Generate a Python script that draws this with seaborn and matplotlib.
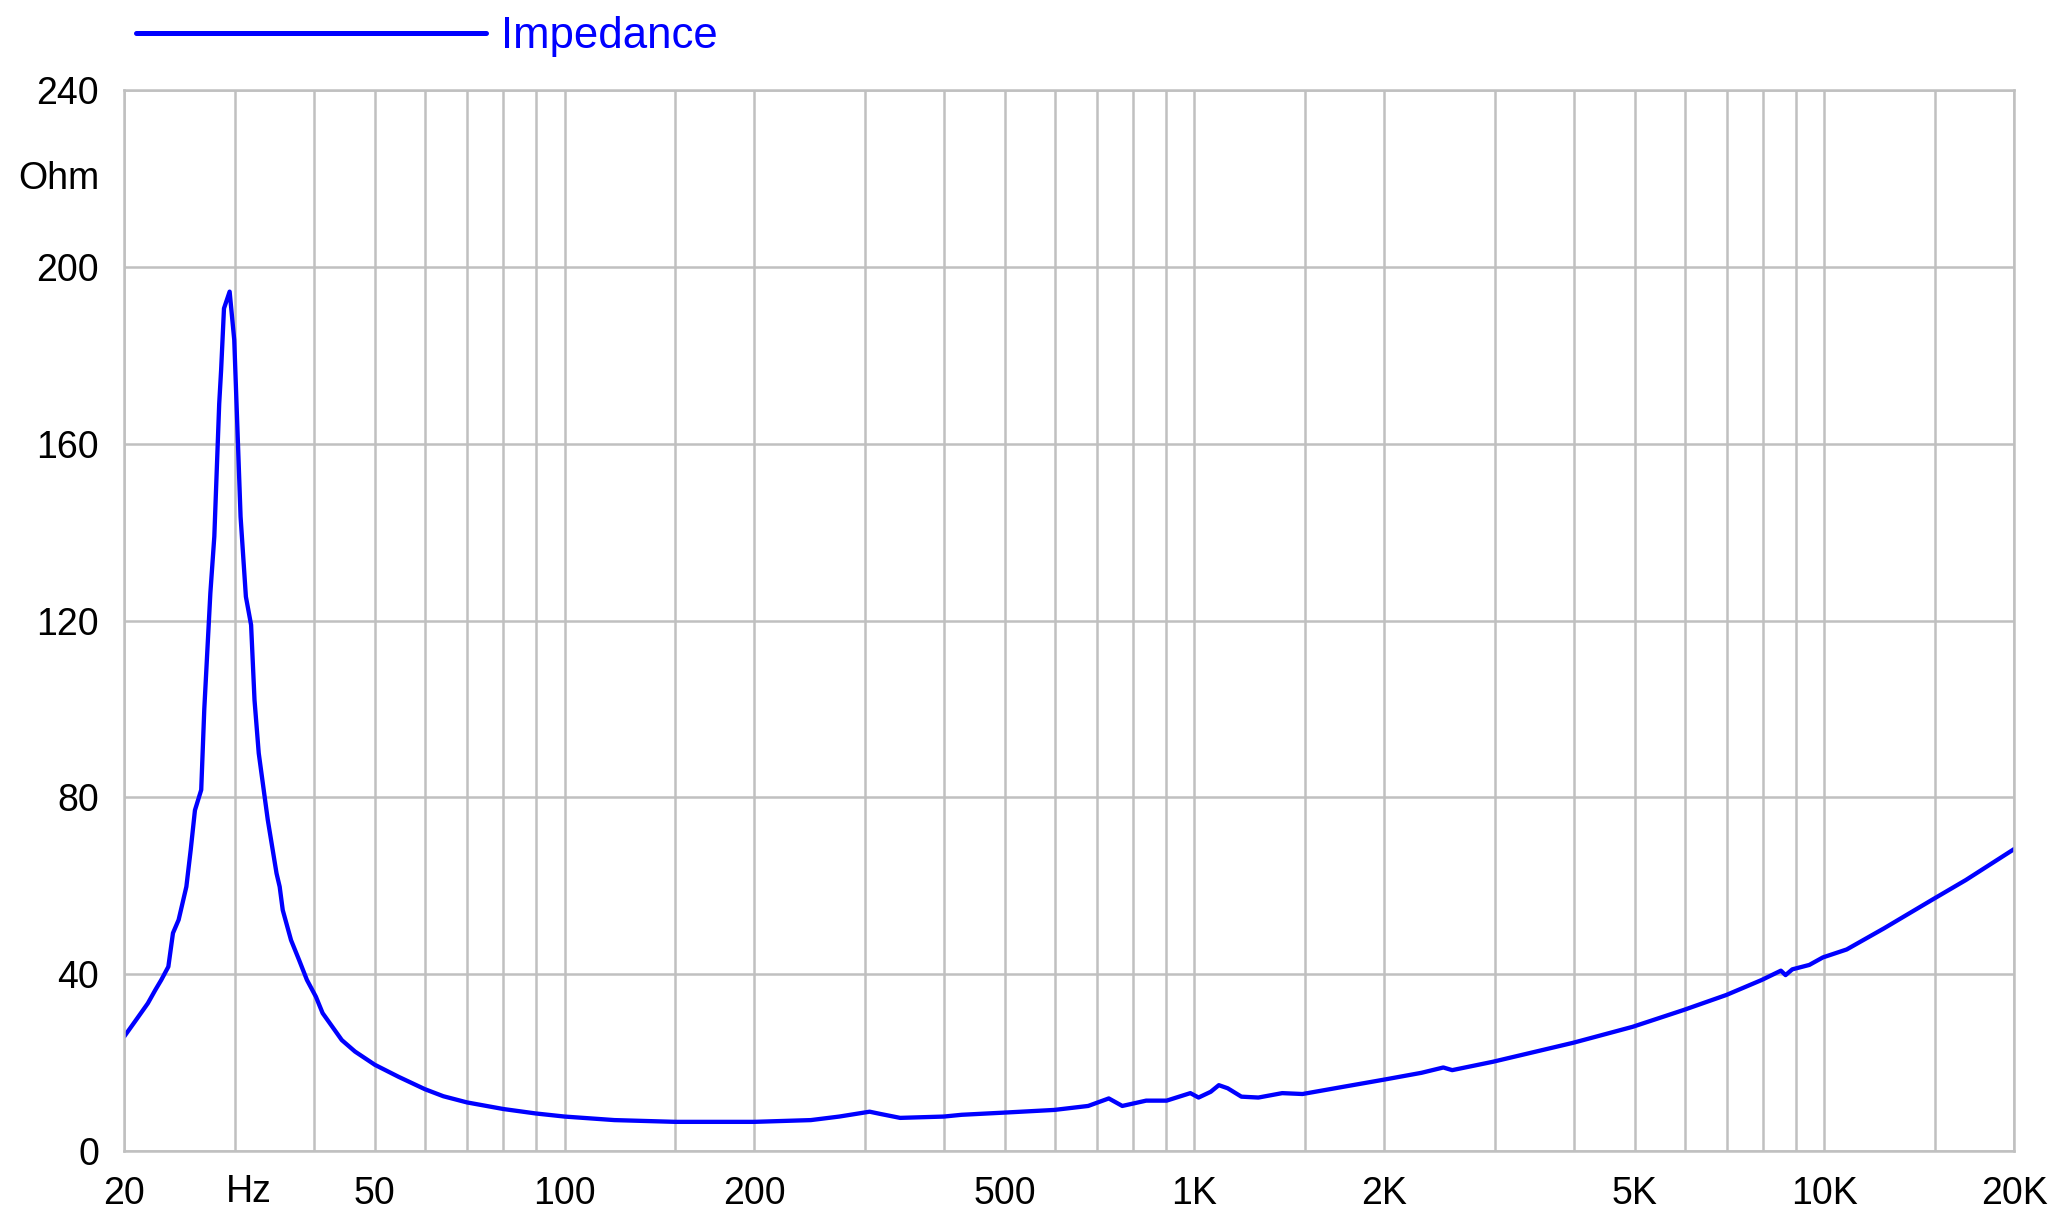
import matplotlib
matplotlib.use("Agg")
import matplotlib.pyplot as plt
import matplotlib.ticker as mticker
import numpy as np
import pandas as pd
import seaborn as sns

# impedance curve (Hz, Ohm)
freq = [20, 20.8, 21.8, 22.4, 22.9, 23.5, 23.9, 24.4, 25.1, 25.5, 25.9, 26.5,
        26.8, 27.4, 27.8, 28.3, 28.5, 28.8, 29.4, 29.9, 30.6, 31.2, 31.8, 32.2,
        32.7, 33.8, 34.9, 35.3, 35.7, 36.8, 37.9, 39.0, 40.3, 41.3, 42.8, 44.3,
        46.5, 50, 54.5, 60, 64.2, 70, 80, 90, 100, 120, 150, 200, 246, 273, 305,
        317, 341, 400, 427, 500, 599, 678, 731, 768, 838, 903, 985, 1015, 1061,
        1093, 1129, 1187, 1263, 1378, 1484, 1702, 1990, 2293, 2483, 2565, 2978,
        3994, 4960, 5975, 6986, 7952, 8528, 8675, 8892, 9462, 9943, 10848,
        12441, 14808, 16765, 20000]
impedance = [25.9, 29.3, 33.4, 36.4, 38.7, 41.7, 49.3, 52.3, 59.8, 68.1, 77.1,
             81.7, 100, 126.2, 139, 169, 176.7, 190.6, 194.4, 183.5, 143.5,
             125.4, 119, 102, 90, 74.9, 62.8, 59.8, 54.5, 47.7, 43.2, 38.7,
             34.9, 31.2, 28.1, 25.1, 22.5, 19.5, 16.8, 14.0, 12.4, 11.0, 9.5,
             8.5, 7.8, 7.0, 6.6, 6.6, 7.0, 7.8, 8.9, 8.4, 7.5, 7.8, 8.2, 8.7,
             9.3, 10.2, 11.9, 10.2, 11.4, 11.4, 13.1, 12.1, 13.4, 14.9, 14.2,
             12.3, 12.1, 13.1, 12.9, 14.4, 16.1, 17.7, 18.9, 18.3, 20.2, 24.5,
             28.1, 31.9, 35.3, 38.7, 40.8, 39.8, 41.1, 42.1, 43.8, 45.6, 50.4,
             56.8, 61.3, 68.3]

major_x = [20, 50, 100, 200, 500, 1000, 2000, 5000, 10000, 20000]
major_x_labels = ["20", "50", "100", "200", "500", "1K", "2K", "5K", "10K", "20K"]
minor_x = [30, 40, 60, 70, 80, 90, 150, 300, 400, 600, 700, 800, 900, 1500,
           3000, 4000, 6000, 7000, 8000, 9000, 15000]
y_ticks = [0, 40, 80, 120, 160, 200, 240]

df = pd.DataFrame({"freq": freq, "impedance": impedance})

sns.set_theme(style="whitegrid")
plt.rcParams["font.family"] = ["Liberation Sans", "DejaVu Sans"]
plt.rcParams["text.color"] = "black"
grid_col = "#c0c0c0"

fig = plt.figure(figsize=(20.67, 12.17), dpi=100)
ax = fig.add_axes([0.0601, 0.0542, 0.9143, 0.8718])

sns.lineplot(data=df, x="freq", y="impedance", ax=ax, color="#0000ff",
             linewidth=3.1, label="Impedance", sort=False)

ax.set_xscale("log")
ax.set_xlim(20, 20000)
ax.set_ylim(0, 240)

ax.set_xticks(major_x)
ax.set_xticklabels(major_x_labels)
ax.set_xticks(minor_x, minor=True)
ax.xaxis.set_minor_formatter(mticker.NullFormatter())
ax.set_yticks(y_ticks)
ax.tick_params(axis="both", which="major", labelsize=27, length=12, width=1.3,
               color="#808080", pad=6, labelcolor="black")
ax.tick_params(axis="x", which="minor", length=0)
ax.grid(True, which="both", color=grid_col, linewidth=1.8)
for s in ax.spines.values():
    s.set_color(grid_col)
    s.set_linewidth(1.8)

ax.set_xlabel(None)
ax.set_ylabel(None)

fig.text(0.0285, 0.853, "Ohm", fontsize=27, ha="center", va="center", color="black")
fig.text(249 / 2067, 0.0208, "Hz", fontsize=27, ha="center", va="center", color="black")

leg = ax.legend(loc="center left", bbox_to_anchor=(0.0658, 0.97),
                bbox_transform=fig.transFigure, frameon=False, fontsize=31.5,
                handlelength=8, handletextpad=0.35, borderpad=0, borderaxespad=0,
                labelcolor="linecolor")
for h in leg.get_lines():
    h.set_linewidth(3.6)

fig.savefig("out.png", dpi=100)
